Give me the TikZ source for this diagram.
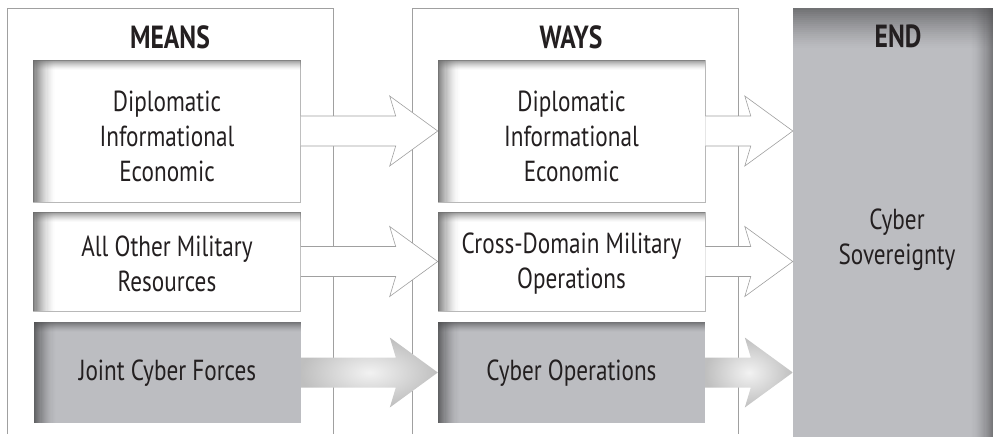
\documentclass[tikz,border=0pt]{standalone}
\usepackage{fontspec}
\setmainfont{PT Sans}[FakeStretch=0.80]
\usetikzlibrary{calc}
\definecolor{framec}{HTML}{A0A0A0}
\definecolor{txt}{HTML}{231F20}
\definecolor{graybase}{HTML}{BCBDC1}
\definecolor{grayshadow}{HTML}{4A4A4C}
\definecolor{whiteshadow}{HTML}{6A6A6A}
\definecolor{boxline}{HTML}{B8B8B8}
\tikzset{
  frameline/.style={draw=framec, line width=0.8pt},
  title/.style={font=\bfseries\fontsize{32}{34}\selectfont, text=txt, inner sep=0pt},
  lbl/.style={font=\fontsize{29}{35}\selectfont, text=txt, align=center},
  whitebox/.style={draw=boxline, line width=0.6pt, fill=white, minimum width=267pt, inner sep=0pt},
  graybox/.style={draw=none, fill=graybase, minimum width=267pt, inner sep=0pt},
  endbox/.style={draw=none, fill=graybase, minimum width=200pt, minimum height=429pt, inner sep=0pt},
  openarrow/.style={draw=framec, line width=0.6pt, fill=white},
  grayarrow/.style={draw=none, inner color=gray!10, outer color=gray!50},
}
% #1 node, #2 dark colour, #3 left width, #4 top height, #5 max opacity
\newcommand{\edgeshade}[5]{%
  \foreach \i in {0,...,19}{%
    \pgfmathsetmacro\op{#5*(1-\i/20)^1.6}%
    \fill[#2, opacity=\op] ([xshift={\i*#3/20}]#1.north west) rectangle ([xshift={(\i+1)*#3/20}]#1.south west);
  }%
  \foreach \i in {0,...,9}{%
    \pgfmathsetmacro\op{#5*0.8*(1-\i/10)^1.4}%
    \fill[#2, opacity=\op] ([yshift={-\i*#4/10}]#1.north west) rectangle ([yshift={-(\i+1)*#4/10}]#1.north east);
  }%
}
\begin{document}
\begin{tikzpicture}[x=1pt,y=-1pt]
\useasboundingbox (0,0) rectangle (1001,439);
% frames
\draw[frameline] (7,434) -- (7,8) -- (333,8) -- (333,434);
\draw[frameline] (412,434) -- (412,8) -- (738,8) -- (738,434);
% titles
\node[title] (tmeans) at (170,37) {MEANS};
\node[title] (tways) at (571,37) {WAYS};
% boxes
\node[whitebox, minimum height=142pt] (m1) at (167,131) {};
\node[whitebox, minimum height=99pt] (m2) at (167,261.5) {};
\node[graybox, minimum height=101pt] (m3) at (167.5,372.5) {};
\node[whitebox, minimum height=142pt] (w1) at (571.5,131) {};
\node[whitebox, minimum height=99pt] (w2) at (571.5,261.5) {};
\node[graybox, minimum height=101pt] (w3) at (571.5,372.5) {};
\node[endbox] (e) at (893,222.5) {};
\foreach \n in {m1,m2,w1,w2}{\edgeshade{\n}{whiteshadow}{22pt}{10pt}{0.85}}
\foreach \n in {m3,w3}{\edgeshade{\n}{grayshadow}{22pt}{10pt}{0.8}}
% END box shading: right edge and top edge
\foreach \i in {0,...,19}{
  \pgfmathsetmacro\op{0.6*(1-\i/20)^1.5}
  \fill[grayshadow, opacity=\op] ([xshift={-\i*1.1pt}]e.north east) rectangle ([xshift={-(\i+1)*1.1pt}]e.south east);
}
\foreach \i in {0,...,19}{
  \pgfmathsetmacro\op{0.65*(1-\i/20)^1.3}
  \fill[grayshadow, opacity=\op] ([yshift={-\i*2pt}]e.north west) rectangle ([yshift={-(\i+1)*2pt}]e.north east);
}
\node[title] (tend) at (898,36) {END};
% labels
\node[lbl] (lm1) at ([yshift=-5pt]m1.center) {Diplomatic\\Informational\\Economic};
\node[lbl] (lm2) at ([yshift=-2pt]m2.center) {All Other Military\\Resources};
\node[lbl] (lm3) at ([yshift=-1pt]m3.center) {Joint Cyber Forces};
\node[lbl] (lw1) at ([yshift=-5pt]w1.center) {Diplomatic\\Informational\\Economic};
\node[lbl] (lw2) at ([yshift=-2pt]w2.center) {Cross-Domain Military\\Operations};
\node[lbl] (lw3) at ([yshift=-1pt]w3.center) {Cyber Operations};
\node[lbl] (le) at (897,240) {Cyber\\Sovereignty};
% arrows
\foreach \a/\b/\s in {m1/w1/openarrow, w1/e/openarrow, m2/w2/openarrow, w2/e/openarrow, m3/w3/grayarrow, w3/e/grayarrow}{
  \path[\s] let \p1=(\a.east), \p2=(\b.west) in
    (\x1,{\y1+15pt}) -- ({\x2-42pt},{\y1+15pt}) -- ({\x2-48pt},{\y1+35pt}) -- (\x2,\y1)
    -- ({\x2-48pt},{\y1-35pt}) -- ({\x2-42pt},{\y1-15pt}) -- (\x1,{\y1-15pt});
}
\end{tikzpicture}
\end{document}
